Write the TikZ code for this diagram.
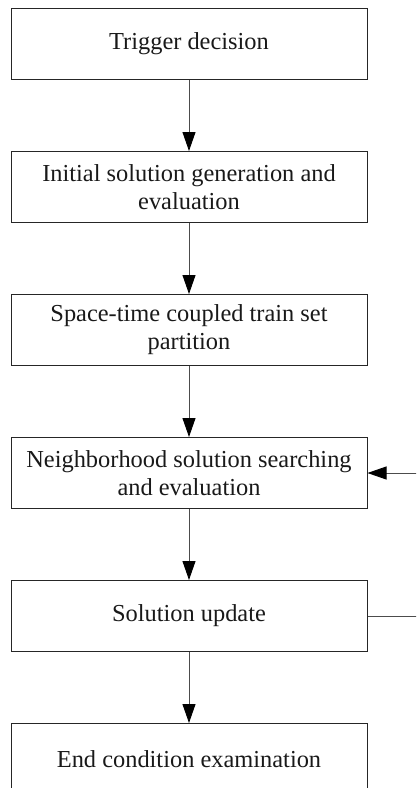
\documentclass[tikz,border=0pt]{standalone}
\usepackage{fontspec}
\setmainfont{Liberation Serif}
\usetikzlibrary{positioning,arrows.meta}

\begin{document}
\begin{tikzpicture}[
	stagebox/.style={rectangle, draw=black!85, line width=1pt, minimum width=356pt, minimum height=71pt, align=center, font=\fontsize{24.4}{28}\selectfont, text=black!90, inner sep=0pt},
	flow/.style={-{Triangle[length=19pt,width=13pt,fill=black,color=black]}, line width=0.9pt, draw=black!70},
	node distance=71pt,
	]
	\useasboundingbox (0,0) rectangle (416pt,-788pt);
	\clip (0,0) rectangle (416pt,-788pt);
	%Nodes
	\node[stagebox] (s1) at (189pt,-44pt) {Trigger decision};
	\node[stagebox] (s2) [below=of s1] {Initial solution generation and\\evaluation};
	\node[stagebox] (s3) [below=of s2] {Space-time coupled train set\\partition};
	\node[stagebox] (s4) [below=of s3] {Neighborhood solution searching\\and evaluation};
	\node[stagebox] (s5) [below=of s4] {Solution update};
	\node[stagebox] (s6) [below=of s5] {End condition examination};
	\coordinate (loop) at ([xshift=80pt]s5.east);
	
	%Lines
	\draw[flow] (s1) -- (s2);
	\draw[flow] (s2) -- (s3);
	\draw[flow] (s3) -- (s4);
	\draw[flow] (s4) -- (s5);
	\draw[flow] (s5) -- (s6);
	\draw[flow] (s5.east) -- (loop) |- (s4.east);
\end{tikzpicture}
\end{document}
